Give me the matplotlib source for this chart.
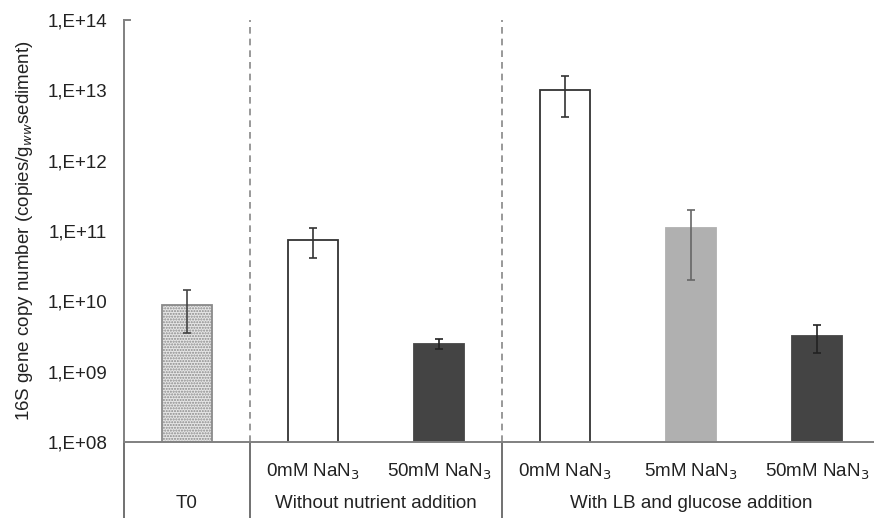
import numpy as np
import matplotlib
matplotlib.use("Agg")
from matplotlib import pyplot as plt

plt.rcParams['font.family'] = ['Liberation Sans', 'DejaVu Sans']

# data
conditions = ["0mM NaN$_3$", "0mM NaN$_3$", "50mM NaN$_3$", "0mM NaN$_3$", "5mM NaN$_3$", "50mM NaN$_3$"]
copies = [8.9e9, 7.5e10, 2.5e9, 1.0e13, 1.1e11, 3.2e9]
errors = [5.4e9, 3.4e10, 0.4e9, 5.8e12, 9.0e10, 1.35e9]
groups = ["T0", "Without nutrient addition", "With LB and glucose addition"]
group_spans = [(-0.5, 0.5), (0.5, 2.5), (2.5, 5.5)]
ytick_vals = [1e8, 1e9, 1e10, 1e11, 1e12, 1e13, 1e14]
ytick_labels = ["1,E+08", "1,E+09", "1,E+10", "1,E+11", "1,E+12", "1,E+13", "1,E+14"]

faces = ["#e6e6e6", "white", "#444444", "white", "#b0b0b0", "#444444"]
edges = ["#8a8a8a", "#333333", "#444444", "#333333", "#b0b0b0", "#444444"]
ecolors = ["#444444", "#333333", "#222222", "#333333", "#666666", "#222222"]

fig = plt.figure(figsize=(8.74, 5.18), dpi=100)
ax = fig.add_axes([124 / 874, 1 - 442 / 518, 1 - 124 / 874, (442 - 20) / 518])

x = np.arange(len(copies))
bars = ax.bar(x, copies, width=0.4, color=faces, edgecolor=edges, linewidth=1.3, zorder=2)
bars[0].set_hatch('......')
for i in range(len(copies)):
    ax.errorbar(x[i], copies[i], yerr=errors[i], fmt='none', ecolor=ecolors[i], elinewidth=1.2,
                capsize=3, capthick=1.2, zorder=3)

ax.set_yscale('log')
ax.set_ylim(1e8, 1e14)
ax.set_xlim(-0.5, 5.45)
ax.set_yticks(ytick_vals)
ax.set_yticklabels(ytick_labels, fontsize=13.5, color="#222222")
ax.yaxis.set_minor_locator(matplotlib.ticker.NullLocator())
ax.tick_params(axis='y', length=0, pad=12)
ax.set_xticks([])
ax.set_ylabel("16S gene copy number (copies/g$_{ww}$sediment)", fontsize=13.5, color="#222222", labelpad=9)

for s in ["top", "right"]:
    ax.spines[s].set_visible(False)
for s in ["left", "bottom"]:
    ax.spines[s].set_color("#808080")
    ax.spines[s].set_linewidth(1.4)

# small stub at the top of the axis
ax.plot([-0.5, -0.45], [1e14, 1e14], color="#808080", linewidth=1.4, clip_on=False)

# dashed separators
for sep in [0.5, 2.5]:
    ax.axvline(sep, color="#888888", linestyle=(0, (4, 3)), linewidth=1.2, zorder=1)

# category table below the axis
trans = ax.get_xaxis_transform()
bottom_frac = -76 / 422
for sep in [-0.5, 0.5, 2.5]:
    ax.plot([sep, sep], [0, bottom_frac], transform=trans, color="#666666", linewidth=1.3, clip_on=False)
for i, lab in enumerate(conditions):
    if i == 0:
        continue
    ax.text(x[i], -30 / 422, lab, transform=trans, ha='center', va='center', fontsize=13.5, color="#222222")
for (a, b), g in zip(group_spans, groups):
    ax.text((a + b) / 2, -61 / 422, g, transform=trans, ha='center', va='center', fontsize=13.5, color="#222222")

fig.savefig("out.png", dpi=100)
